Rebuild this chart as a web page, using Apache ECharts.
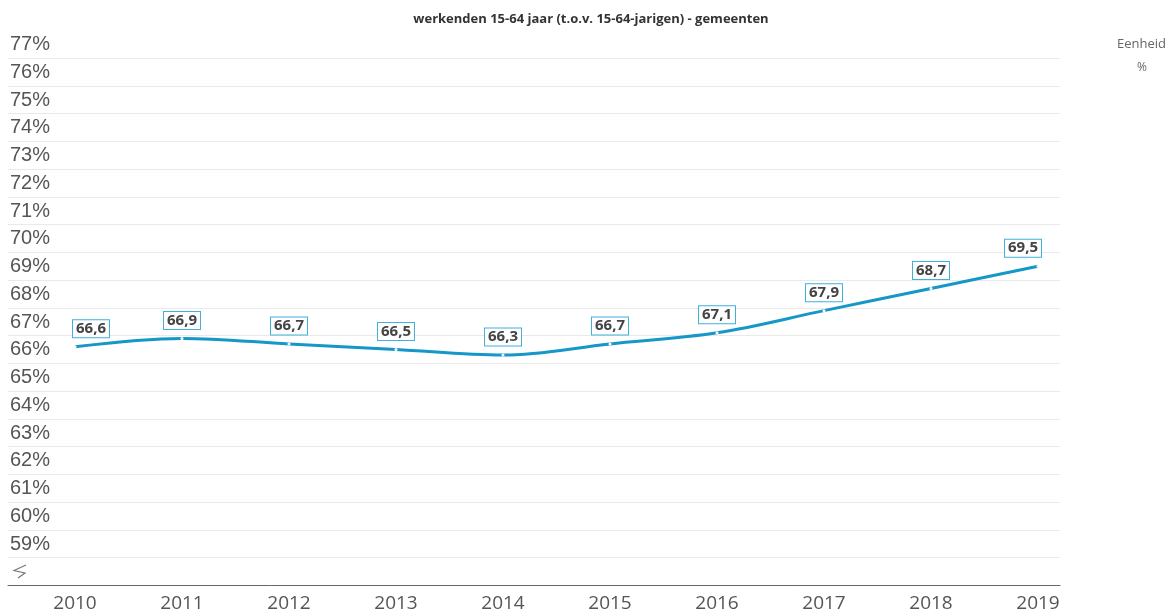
<!DOCTYPE html>
<html>
<head>
<meta charset="utf-8">
<script src="https://cdn.jsdelivr.net/npm/echarts@6/dist/echarts.min.js"></script>
<style>
html,body{margin:0;padding:0;background:#fff;}
#chart{width:1175px;height:615px;}
</style>
</head>
<body>
<div id="chart"></div>
<script>
const titleText = 'werkenden 15-64 jaar (t.o.v. 15-64-jarigen) - gemeenten';
const years = ['2010','2011','2012','2013','2014','2015','2016','2017','2018','2019'];
const values = [66.6, 66.9, 66.7, 66.5, 66.3, 66.7, 67.1, 67.9, 68.7, 69.5];
const yMin = 58, yMax = 77, yStep = 1;
const unitTitle = 'Eenheid';
const unitText = '%';

const lineColor = '#1597c7';
const fmt = v => v.toFixed(1).replace('.', ',');

const seriesData = values.map((v, i) => {
  const d = { value: v };
  if (i === 0) d.label = { align: 'left', offset: [-2, 0] };
  if (i === values.length - 1) d.label = { align: 'right', offset: [3, 0] };
  return d;
});

const chart = echarts.init(document.getElementById('chart'));
chart.setOption({
  animation: false,
  title: {
    text: titleText, left: 586, top: 8, textAlign: 'center',
    textStyle: { fontFamily: 'Open Sans', fontSize: 13, fontWeight: 'bold', color: '#333' }
  },
  graphic: [
    { type: 'text', left: 1117, top: 38, style: { text: unitTitle, font: '13px "Open Sans"', fill: '#666' } },
    { type: 'text', left: 1137, top: 62, style: { text: unitText, font: '12px "Open Sans"', fill: '#666' } },
    { type: 'polyline', shape: { points: [[26, 565], [14, 570.5], [25, 573], [18, 578]] },
      style: { stroke: '#777', lineWidth: 1.2, fill: null } }
  ],
  grid: [
    { left: 8, right: 115, top: 58, bottom: 29.5 },
    { left: 75, right: 137, top: 58, bottom: 29.5 }
  ],
  xAxis: [
    { type: 'value', gridIndex: 0, min: 0, max: 1, axisLabel: { show: false }, axisTick: { show: false },
      splitLine: { show: false }, axisLine: { show: true, lineStyle: { color: '#666', width: 1 } } },
    { type: 'category', gridIndex: 1, data: years, boundaryGap: false,
      axisLine: { show: false }, axisTick: { show: false },
      axisLabel: { margin: 9, fontFamily: 'Open Sans', fontSize: 19, color: '#555' } }
  ],
  yAxis: [
    { type: 'value', gridIndex: 0, min: yMin, max: yMax, interval: yStep,
      axisLine: { show: false }, axisTick: { show: false },
      splitLine: { show: true, lineStyle: { color: '#e9e9e9', width: 1 } },
      axisLabel: {
        inside: true, margin: 2, align: 'left', verticalAlign: 'bottom', lineHeight: 27,
        showMaxLabel: true, showMinLabel: true, hideOverlap: false,
        fontFamily: 'Liberation Sans', fontSize: 20, color: '#555',
        formatter: v => v === yMin ? '' : v + '%'
      } },
    { type: 'value', gridIndex: 1, min: yMin, max: yMax, interval: yStep, show: false,
      splitLine: { show: false } }
  ],
  series: [{
    type: 'line', xAxisIndex: 1, yAxisIndex: 1, data: seriesData,
    smooth: 0.35,
    lineStyle: { color: lineColor, width: 3 },
    symbol: 'circle', symbolSize: 3,
    itemStyle: { color: '#fff', borderWidth: 0 },
    label: {
      show: true, position: 'top', distance: 8,
      formatter: p => fmt(p.value),
      fontFamily: 'Open Sans', fontWeight: 'bold', fontSize: 15, color: '#444',
      backgroundColor: '#fff', borderColor: '#3fb1da', borderWidth: 1,
      padding: [0, 3, 0, 3], lineHeight: 17
    }
  }]
});
</script>
</body>
</html>
